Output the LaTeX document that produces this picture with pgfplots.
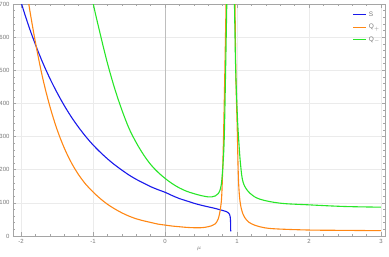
\documentclass[border=0pt]{standalone}
\usepackage{pgfplots}
\pgfplotsset{compat=1.18}
\usepackage{fontspec}
\setmainfont{Liberation Sans}
\definecolor{cS}{RGB}{25,25,235}
\definecolor{cQp}{RGB}{255,135,20}
\definecolor{cQm}{RGB}{40,230,40}
\definecolor{framegray}{RGB}{165,165,165}
\definecolor{gridgray}{RGB}{235,235,235}
\definecolor{axgray}{RGB}{190,190,190}
\definecolor{labelgray}{RGB}{120,120,120}
\begin{document}
\begin{tikzpicture}
\begin{axis}[
  at={(0,0)}, anchor=south west,
  scale only axis, width=372pt, height=232pt,
  xmin=-2.111, xmax=3.056, ymin=0, ymax=700,
  axis line style={color=framegray, line width=0.6pt},
  xtick={-2,-1,0,1,2,3}, ytick={0,100,200,300,400,500,600,700},
  minor x tick num=4, minor y tick num=4,
  tick align=inside,
  major tick length=3.5pt, minor tick length=2pt,
  every tick/.style={color=framegray, line width=0.5pt},
  xmajorgrids, ymajorgrids,
  major grid style={color=gridgray, line width=0.6pt},
  extra x ticks={0}, extra x tick labels={},
  extra x tick style={major grid style={color=axgray, line width=0.7pt}},
  ticklabel style={font=\fontsize{6}{7}\selectfont, color=labelgray},
  /pgf/number format/assume math mode=true,
  xlabel={$\mu$},
  xlabel style={font=\fontsize{6.5}{7}\selectfont, color=labelgray, yshift=4pt},
  legend style={at={(axis description cs:0.905,0.985)}, anchor=north west, draw=none, fill=none,
    font=\fontsize{6.5}{8}\selectfont, row sep=2.5pt},
  legend cell align=left,
  legend image code/.code={\draw[#1] (0pt,0pt) -- (13pt,0pt);},
]
\addlegendimage{draw=cS, line width=1.1pt}
\addlegendentry{\textcolor{labelgray}{S}}
\addlegendimage{draw=cQp, line width=1.1pt}
\addlegendentry{\textcolor{labelgray}{Q$_+$}}
\addlegendimage{draw=cQm, line width=1.1pt}
\addlegendentry{\textcolor{labelgray}{Q$_-$}}
\addplot[cS, line width=1.1pt, smooth, tension=0.55, forget plot] coordinates {
(-2.1,780) (-2.0,706) (-1.9,638) (-1.8,578) (-1.7,524) (-1.6,476) (-1.5,433) (-1.4,394)
(-1.3,359) (-1.2,328) (-1.1,300) (-1.0,275) (-0.9,253) (-0.8,233) (-0.7,215) (-0.6,199)
(-0.5,184) (-0.4,171) (-0.3,160) (-0.2,149) (-0.1,140) (0,132) (0.1,122) (0.2,113)
(0.3,106) (0.4,99) (0.5,93) (0.6,88) (0.7,83) (0.8,77) (0.85,74) (0.88,70) (0.895,66)
(0.905,59) (0.910,47) (0.912,30) (0.913,14)};
\addplot[cQp, line width=1.1pt, smooth, tension=0.55, forget plot] coordinates {
(-1.93,780) (-1.9,712) (-1.8,585) (-1.7,478) (-1.6,392) (-1.5,322) (-1.4,266) (-1.3,221)
(-1.2,185) (-1.1,156) (-1.0,133) (-0.9,113) (-0.8,96) (-0.7,82) (-0.6,70) (-0.5,60)
(-0.4,52) (-0.3,46) (-0.2,41) (-0.1,36) (0,33) (0.1,30) (0.2,28) (0.3,26) (0.4,25)
(0.5,25) (0.55,26) (0.6,28) (0.65,31) (0.7,37) (0.74,52) (0.77,82) (0.79,130) (0.81,270)
(0.83,480) (0.85,720)};
\addplot[cQm, line width=1.1pt, smooth, tension=0.55, forget plot] coordinates {
(-1.03,760) (-1.0,705) (-0.9,610) (-0.8,522) (-0.7,446) (-0.6,381) (-0.5,325) (-0.4,282)
(-0.3,246) (-0.2,216) (-0.1,193) (0,174) (0.1,158) (0.2,145) (0.3,135) (0.4,128)
(0.5,122) (0.6,118) (0.65,118) (0.7,121) (0.74,128) (0.77,142) (0.79,170) (0.81,230)
(0.825,310) (0.843,510) (0.86,720)};
\addplot[cQp, line width=1.1pt, smooth, tension=0.55, forget plot] coordinates {
(0.960,760) (0.972,700) (0.985,480) (1.004,320) (1.02,175) (1.042,105) (1.08,68) (1.134,48)
(1.2,37) (1.315,28) (1.5,22) (2.0,18) (2.5,17) (3.0,16)};
\addplot[cQm, line width=1.1pt, smooth, tension=0.55, forget plot] coordinates {
(0.955,780) (0.965,700) (0.98,520) (1.0,390) (1.018,310) (1.05,215) (1.088,160) (1.18,129)
(1.32,111) (1.6,99) (2.0,94) (2.5,89) (3.0,87)};
\end{axis}
\pgfresetboundingbox
\path (-13pt,-21pt) rectangle (376pt,236pt);
\end{tikzpicture}
\end{document}
